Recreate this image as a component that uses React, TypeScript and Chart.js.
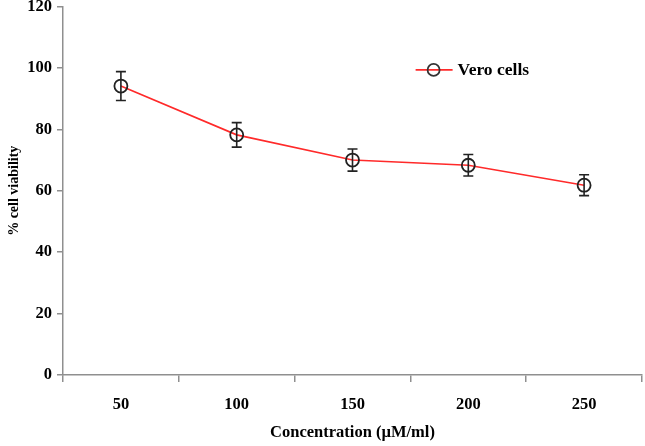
import React, { useEffect, useRef } from "react";
import { Chart, registerables } from "chart.js";

Chart.register(...registerables);

const categories = ["50", "100", "150", "200", "250"];
const viability = [94.1, 78.2, 70.0, 68.3, 61.8];
const errors = [4.7, 4.0, 3.6, 3.5, 3.4];
const yTicks = [0, 20, 40, 60, 80, 100, 120];
const seriesLabel = "Vero cells";

const FONT = "'Liberation Serif', 'Times New Roman', serif";
const AXIS = "#8f8f8f";

const errorBarPlugin = {
  id: "errorBars",
  afterDatasetsDraw(chart: any) {
    const { ctx } = chart;
    const x = chart.scales.x;
    const y = chart.scales.y;
    ctx.save();
    ctx.strokeStyle = "#222";
    ctx.lineWidth = 1.6;
    viability.forEach((v, i) => {
      const px = x.getPixelForValue(i);
      const top = y.getPixelForValue(v + errors[i]);
      const bot = y.getPixelForValue(v - errors[i]);
      ctx.beginPath();
      ctx.moveTo(px, top);
      ctx.lineTo(px, bot);
      ctx.moveTo(px - 5, top);
      ctx.lineTo(px + 5, top);
      ctx.moveTo(px - 5, bot);
      ctx.lineTo(px + 5, bot);
      ctx.stroke();
    });
    ctx.restore();
  },
};

const legendPlugin = {
  id: "customLegend",
  afterDraw(chart: any) {
    const { ctx, chartArea } = chart;
    const lx = chartArea.left + (chartArea.right - chartArea.left) * 0.609;
    const ly = chartArea.top + (chartArea.bottom - chartArea.top) * 0.172;
    ctx.save();
    ctx.strokeStyle = "#ff2a2a";
    ctx.lineWidth = 1.6;
    ctx.beginPath();
    ctx.moveTo(lx, ly);
    ctx.lineTo(lx + 37, ly);
    ctx.stroke();
    ctx.strokeStyle = "#333";
    ctx.lineWidth = 1.8;
    ctx.beginPath();
    ctx.arc(lx + 18, ly, 6, 0, Math.PI * 2);
    ctx.stroke();
    ctx.fillStyle = "#000";
    ctx.font = `bold 17.5px ${FONT}`;
    ctx.textBaseline = "middle";
    ctx.textAlign = "left";
    ctx.fillText(seriesLabel, lx + 42, ly + 1);
    ctx.restore();
  },
};

export default function App() {
  const ref = useRef<HTMLCanvasElement>(null);
  useEffect(() => {
    if (!ref.current) return;
    const chart = new Chart(ref.current, {
      type: "line",
      data: {
        labels: categories,
        datasets: [
          {
            label: seriesLabel,
            data: viability,
            borderColor: "#ff2a2a",
            borderWidth: 1.6,
            pointRadius: 6.5,
            pointHoverRadius: 6.5,
            pointBorderColor: "#222",
            pointBackgroundColor: "rgba(0,0,0,0)",
            pointBorderWidth: 1.8,
            tension: 0,
          },
        ],
      },
      options: {
        responsive: false,
        animation: false,
        layout: { autoPadding: false, padding: { top: 6.5, right: 3, left: 0, bottom: 0 } },
        plugins: {
          legend: { display: false },
          tooltip: { enabled: false },
        },
        scales: {
          x: {
            type: "category",
            offset: true,
            grid: {
              offset: true,
              drawOnChartArea: false,
              drawTicks: true,
              tickLength: 7,
              color: AXIS,
              lineWidth: 1.5,
            },
            border: { color: AXIS, width: 1.5 },
            ticks: {
              color: "#000",
              font: { family: FONT, size: 16.5, weight: "bold" },
              padding: 13,
            },
            title: {
              display: true,
              text: "Concentration (µM/ml)",
              color: "#000",
              font: { family: FONT, size: 16.5, weight: "bold" },
              padding: { top: 4, bottom: 3 },
            },
            afterFit(scale: any) {
              scale.height = 71;
              scale.paddingLeft = 0;
              scale.paddingRight = 0;
            },
          },
          y: {
            min: 0,
            max: 120,
            afterBuildTicks(scale: any) {
              scale.ticks = yTicks.map((v) => ({ value: v }));
            },
            grid: {
              drawOnChartArea: false,
              drawTicks: true,
              tickLength: 6,
              color: AXIS,
              lineWidth: 1.5,
            },
            border: { color: AXIS, width: 1.5 },
            ticks: {
              color: "#000",
              font: { family: FONT, size: 16.5, weight: "bold" },
              padding: 5,
            },
            title: {
              display: true,
              text: "% cell viability",
              color: "#000",
              font: { family: FONT, size: 14, weight: "bold" },
              padding: { top: 5.6, bottom: 0 },
            },
            afterFit(scale: any) {
              scale.width = 63;
              scale.paddingTop = 0;
              scale.paddingBottom = 0;
            },
          },
        },
      },
      plugins: [errorBarPlugin, legendPlugin],
    });
    return () => chart.destroy();
  }, []);
  return (
    <div style={{ position: "fixed", left: 0, top: 0, width: 645, height: 446, background: "#fff" }}>
      <canvas ref={ref} width={645} height={446} />
    </div>
  );
}
